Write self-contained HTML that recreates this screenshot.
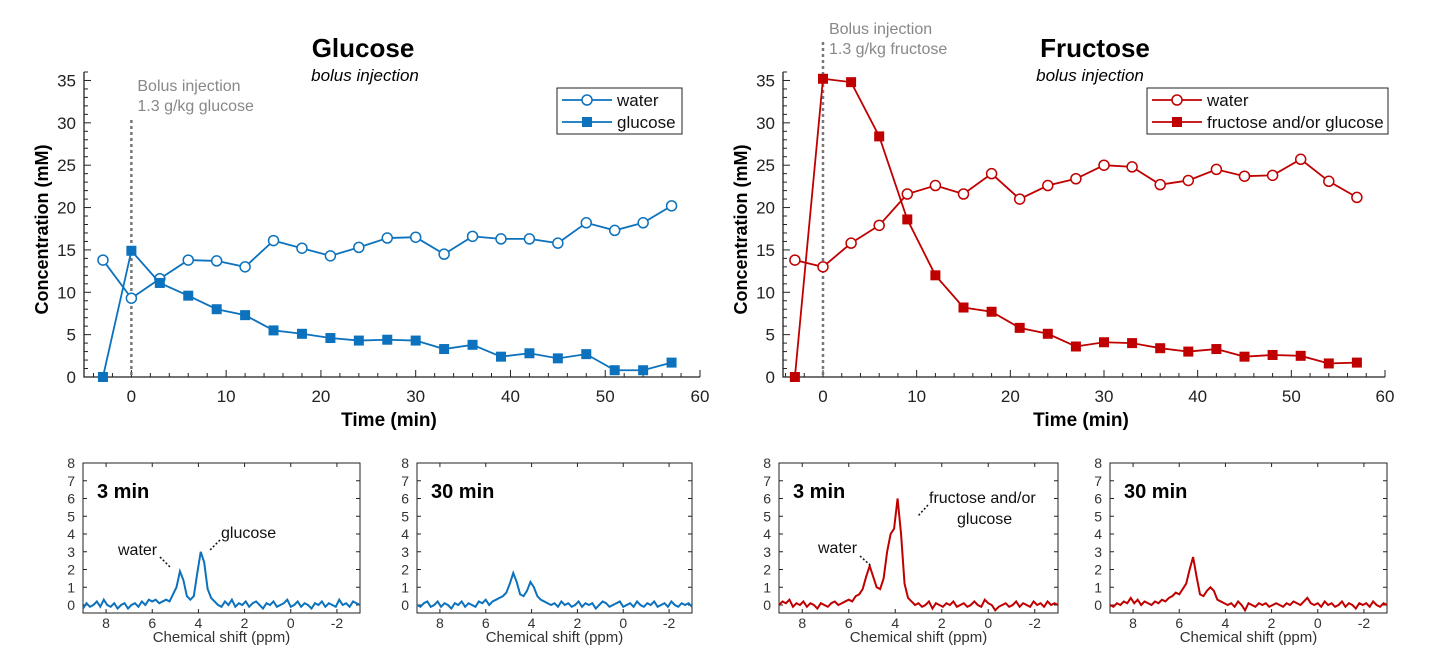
<!DOCTYPE html>
<html><head><meta charset="utf-8"><style>
body{margin:0;background:#fff;}
svg{display:block;font-family:"Liberation Sans",sans-serif;}
.n{font-family:"Liberation Sans Narrow","Liberation Sans",sans-serif;}
</style></head><body>
<svg id="fig" width="1434" height="661" viewBox="0 0 1434 661">
<text x="363" y="57" text-anchor="middle" font-size="26" font-weight="bold">Glucose</text>
<text x="365" y="81" text-anchor="middle" font-size="17" font-style="italic">bolus injection</text>
<text x="1095" y="57" text-anchor="middle" font-size="26" font-weight="bold">Fructose</text>
<text x="1090" y="81" text-anchor="middle" font-size="17" font-style="italic">bolus injection</text>
</svg>
<script>
const timeMin=[-3,0,3,6,9,12,15,18,21,24,27,30,33,36,39,42,45,48,51,54,57];
const gWater=[13.8,9.3,11.6,13.8,13.7,13.0,16.1,15.2,14.3,15.3,16.4,16.5,14.5,16.6,16.3,16.3,15.8,18.2,17.3,18.2,20.2];
const gGlucose=[0,14.9,11.1,9.6,8.0,7.3,5.5,5.1,4.6,4.3,4.4,4.3,3.3,3.8,2.4,2.8,2.2,2.7,0.8,0.8,1.7];
const fWater=[13.8,13.0,15.8,17.9,21.6,22.6,21.6,24.0,21.0,22.6,23.4,25.0,24.8,22.7,23.2,24.5,23.7,23.8,25.7,23.1,21.2];
const fSugar=[0,35.2,34.8,28.4,18.6,12.0,8.2,7.7,5.8,5.1,3.6,4.1,4.0,3.4,3.0,3.3,2.4,2.6,2.5,1.6,1.7];
const yTicks=[0,5,10,15,20,25,30,35];
const xTicks=[0,10,20,30,40,50,60];
const specYTicks=[0,1,2,3,4,5,6,7,8];
const specXTicks=[8,6,4,2,0,-2];
const spec1=[-0.2,0.1,-0.1,0.0,0.2,-0.1,0.3,0.0,-0.1,0.1,-0.2,0.0,0.1,-0.2,0.0,0.1,-0.1,0.2,0.0,0.3,0.2,0.3,0.1,0.2,0.3,0.2,0.6,1.0,1.9,1.4,0.5,0.3,0.5,1.8,3.0,2.4,0.9,0.4,0.2,0.0,-0.1,0.2,0.0,0.3,-0.1,0.1,0.0,0.2,-0.1,0.1,0.2,0.0,-0.2,0.1,0.0,0.2,-0.1,0.0,0.1,0.3,-0.1,0.0,0.2,-0.1,0.1,0.0,-0.2,0.1,0.0,0.2,-0.1,0.1,0.0,-0.1,0.3,0.0,0.1,-0.1,0.2,0.1,0.0];
const spec2=[0.0,-0.1,0.1,0.2,-0.1,0.0,0.2,-0.1,0.1,0.0,-0.2,0.1,0.0,0.2,-0.1,0.1,0.0,-0.1,0.2,0.1,0.3,0.0,0.2,0.3,0.4,0.5,0.7,1.2,1.8,1.3,0.6,0.5,0.8,1.3,1.0,0.5,0.3,0.2,0.1,0.0,0.1,-0.1,0.2,0.0,0.1,-0.1,0.0,0.2,-0.1,0.1,0.0,0.1,-0.2,0.0,0.2,0.1,-0.1,0.0,0.1,0.2,-0.1,0.0,0.1,-0.1,0.2,0.0,-0.1,0.1,0.0,0.2,-0.1,0.0,0.1,-0.1,0.2,0.0,-0.1,0.1,0.0,0.1,-0.1];
const spec3=[0.0,0.2,0.1,0.3,-0.1,0.1,0.0,0.2,-0.1,0.1,0.0,-0.2,0.1,0.0,-0.1,0.1,0.2,0.0,0.1,0.2,0.3,0.2,0.5,0.6,0.9,1.6,2.2,1.6,1.0,0.9,1.5,3.0,4.0,4.3,6.0,4.0,1.2,0.4,0.2,0.0,0.1,-0.1,0.0,0.2,-0.2,0.1,0.0,-0.1,0.1,0.0,0.2,-0.1,0.0,0.1,-0.1,0.0,0.2,0.0,-0.1,0.3,0.1,0.0,-0.3,-0.1,0.0,0.1,-0.1,0.0,0.2,-0.1,0.1,0.0,-0.1,0.2,0.0,0.1,-0.1,0.2,0.0,0.1,0.0];
const spec4=[0.0,-0.1,0.1,0.0,0.2,0.1,0.4,0.1,0.3,0.0,0.2,0.1,0.0,0.2,0.1,0.3,0.2,0.4,0.5,0.7,0.6,0.9,1.2,2.0,2.7,1.6,0.6,0.5,0.8,1.0,0.8,0.3,0.2,0.1,0.0,0.1,-0.1,0.2,0.0,-0.3,0.1,0.0,-0.1,0.1,0.0,0.1,-0.1,0.0,0.1,0.0,-0.1,0.1,0.0,0.2,0.1,0.0,0.2,0.4,0.1,0.0,0.1,-0.1,0.2,0.0,0.1,-0.1,0.0,0.2,-0.1,0.1,0.0,-0.2,0.1,0.0,0.1,-0.1,0.2,0.0,-0.1,0.1,0.0];

const NS='http://www.w3.org/2000/svg';
const svg=document.getElementById('fig');
function mk(tag,attrs,parent){const e=document.createElementNS(NS,tag);for(const k in attrs)e.setAttribute(k,attrs[k]);(parent||svg).appendChild(e);return e;}
function txt(x,y,s,attrs){const e=mk('text',Object.assign({x:x,y:y,class:'n'},attrs));e.textContent=s;return e;}

function mainChart(o){
  const sx=v=>o.x0+(v-o.xmin)*(o.x1-o.x0)/(60-o.xmin);
  const sy=v=>o.y0-(v)*(o.y0-o.y1)/36;
  const g=mk('g',{});
  
  
  const ax=mk('path',{d:`M${o.x0} ${o.y1}V${o.y0}H${o.x1}`,stroke:'#222',fill:'none','stroke-width':1.3},g);
  
  
  for(let v=0;v<=36;v++){const l=v%5===0?7:4;mk('line',{x1:o.x0,x2:o.x0+l,y1:sy(v),y2:sy(v),stroke:'#222'},g);}
  for(let v=-4;v<=60;v+=2){if(v<o.xmin)continue;const l=v%10===0?7:4;mk('line',{x1:sx(v),x2:sx(v),y1:o.y0,y2:o.y0-l,stroke:'#222'},g);}
  yTicks.forEach(v=>{const t=txt(o.x0-8,sy(v)+6,v,{'text-anchor':'end','font-size':17,fill:'#222'});g.appendChild(t);
    
    });
  xTicks.forEach(v=>{const t=txt(sx(v),o.y0+25,v,{'text-anchor':'middle','font-size':17,fill:'#222'});g.appendChild(t);
    
    });
  const yt=txt(0,0,'Concentration (mM)',{'font-size':18,'font-weight':'bold','text-anchor':'middle',transform:`translate(${o.x0-36},${(o.y0+o.y1)/2+5}) rotate(-90)`});g.appendChild(yt);
  
  
  const xt=txt((o.x0+o.x1)/2-3,o.y0+49,'Time (min)',{'font-size':19,'font-weight':'bold','text-anchor':'middle'});g.appendChild(xt);
  
  
  const vl=mk('line',{x1:sx(0),x2:sx(0),y1:o.vtop,y2:o.y0,stroke:'#777','stroke-width':2.5,'stroke-dasharray':'3 3'},g);
  
  
  const a1=txt(sx(0)+6,o.ann,'Bolus  injection',{'font-size':16,fill:'#888'});g.appendChild(a1);
  
  
  const a2=txt(sx(0)+6,o.ann+20,o.dose,{'font-size':16,fill:'#888'});g.appendChild(a2);
  
  
  [[o.s1,'circle',o.l1],[o.s2,'square',o.l2]].forEach(([data,m,lab])=>{
    const p=mk('polyline',{points:timeMin.map((t,i)=>sx(t)+','+sy(data[i])).join(' '),fill:'none',stroke:o.color,'stroke-width':1.8},g);
    
    
    timeMin.forEach((t,i)=>{let e;
      if(m==='circle')e=mk('circle',{cx:sx(t),cy:sy(data[i]),r:5,fill:'#fff',stroke:o.color,'stroke-width':1.5},g);
      else e=mk('rect',{x:sx(t)-5,y:sy(data[i])-5,width:10,height:10,fill:o.color},g);
      
      });
  });
  const lg=mk('g',{},g);
  
  
  mk('rect',{x:o.lx,y:88,width:o.lw,height:46,fill:'#fff',stroke:'#222'},lg);
  [[o.l1,'c',100],[o.l2,'s',122]].forEach(([lab,m,y])=>{
    mk('line',{x1:o.lx+5,x2:o.lx+55,y1:y,y2:y,stroke:o.color,'stroke-width':1.8},lg);
    if(m==='c')mk('circle',{cx:o.lx+30,cy:y,r:5,fill:'#fff',stroke:o.color,'stroke-width':1.5},lg);
    else mk('rect',{x:o.lx+25,y:y-5,width:10,height:10,fill:o.color},lg);
    const t=txt(o.lx+60,y+6,lab,{'font-size':17,fill:'#111'});lg.appendChild(t);
    
    
  });
}
mainChart({name:'glucose',x0:84,x1:700,xmin:-5,y0:377,y1:72,color:'#0c72bd',s1:gWater,s2:gGlucose,l1:'water',l2:'glucose',lx:557,lw:125,vtop:120,ann:91,dose:'1.3 g/kg glucose'});
mainChart({name:'fructose',x0:783,x1:1385,xmin:-4.27,y0:377,y1:72,color:'#c00000',s1:fWater,s2:fSugar,l1:'water',l2:'fructose and/or glucose',lx:1147,lw:241,vtop:42,ann:34,dose:'1.3 g/kg fructose'});

function spectrum(o){
  const top=463,bot=613;
  const sx=p=>o.x0+(9-p)*(o.x1-o.x0)/12;
  const sy=v=>605-v*17.75;
  const g=mk('g',{});
  
  
  mk('rect',{x:o.x0,y:top,width:o.x1-o.x0,height:bot-top,fill:'none',stroke:'#222','stroke-width':1},g);
  specYTicks.forEach(v=>{mk('line',{x1:o.x0,x2:o.x0+4,y1:sy(v),y2:sy(v),stroke:'#222'},g);mk('line',{x1:o.x1,x2:o.x1-4,y1:sy(v),y2:sy(v),stroke:'#222'},g);
    const t=txt(o.x0-8,sy(v)+5,v,{'text-anchor':'end','font-size':14,fill:'#333'});g.appendChild(t);
    
    });
  specXTicks.forEach(v=>{mk('line',{x1:sx(v),x2:sx(v),y1:bot,y2:bot-4,stroke:'#222'},g);mk('line',{x1:sx(v),x2:sx(v),y1:top,y2:top+4,stroke:'#222'},g);
    const t=txt(sx(v),bot+15,v,{'text-anchor':'middle','font-size':14,fill:'#333'});g.appendChild(t);
    
    });
  const xt=txt((o.x0+o.x1)/2,bot+29,'Chemical shift (ppm)',{'text-anchor':'middle','font-size':15,fill:'#333'});g.appendChild(xt);
  
  
  const n=o.data.length;
  const p=mk('polyline',{points:o.data.map((v,i)=>sx(9-12*i/(n-1))+','+sy(v)).join(' '),fill:'none',stroke:o.color,'stroke-width':2},g);
  
  
  const lb=mk('text',{x:o.x0+14,y:498,'font-size':20,'font-weight':'bold'},g);
  lb.textContent=o.label;
  
  
  return {g,sx,sy};
}
spectrum({name:'glucose-3min-spectrum',x0:83,x1:360,data:spec1,color:'#0c72bd',label:'3 min'});
spectrum({name:'glucose-30min-spectrum',x0:417,x1:692,data:spec2,color:'#0c72bd',label:'30 min'});
spectrum({name:'fructose-3min-spectrum',x0:779,x1:1058,data:spec3,color:'#c00000',label:'3 min'});
spectrum({name:'fructose-30min-spectrum',x0:1110,x1:1387,data:spec4,color:'#c00000',label:'30 min'});
function annot(x,y,s,lx1,ly1,lx2,ly2){const t=txt(x,y,s,{'font-size':16,fill:'#111'});
  
  
  mk('line',{x1:lx1,y1:ly1,x2:lx2,y2:ly2,stroke:'#111','stroke-width':1.5,'stroke-dasharray':'2 2'});}
annot(118,555,'water',160,557,171,568);
annot(221,538,'glucose',220,540,209,551);
annot(818,553,'water',860,556,871,566);
annot(929,503,'fructose and/or',928,505,918,516);
const gl=txt(957,524,'glucose',{'font-size':16,fill:'#111'});


</script>
</body></html>
